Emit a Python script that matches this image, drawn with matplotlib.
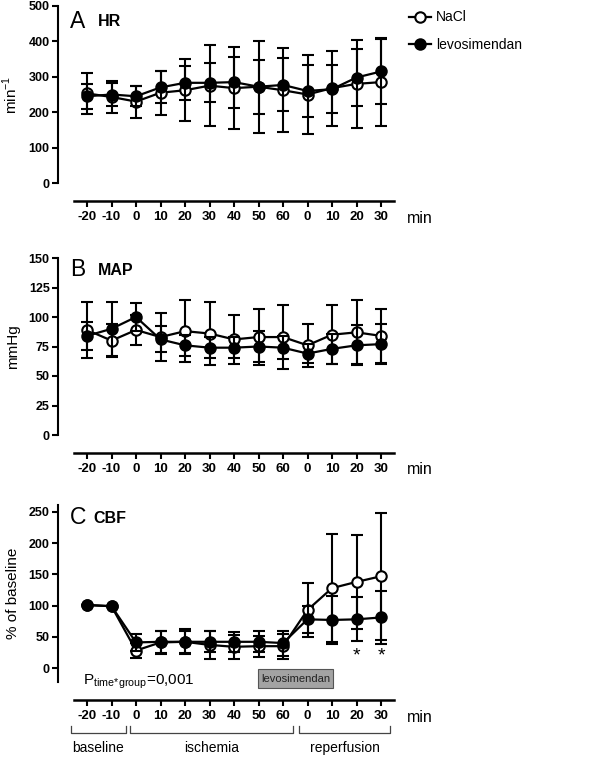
import matplotlib
matplotlib.use('Agg')
import matplotlib.pyplot as plt
from matplotlib.lines import Line2D
from matplotlib.patches import Rectangle

plt.rcParams['font.family'] = ['Liberation Sans', 'DejaVu Sans']
plt.rcParams['mathtext.fontset'] = 'custom'
plt.rcParams['mathtext.rm'] = 'Liberation Sans'

# time points (baseline, ischemia, reperfusion)
time_labels = ['-20', '-10', '0', '10', '20', '30', '40', '50', '60', '0', '10', '20', '30']

# heart rate (min^-1), mean and SD
hr_nacl = [253, 243, 230, 255, 262, 275, 268, 272, 262, 250, 268, 280, 285]
hr_nacl_sd = [58, 45, 45, 62, 88, 115, 115, 130, 118, 112, 106, 125, 125]
hr_levo = [245, 250, 245, 270, 283, 283, 285, 272, 277, 260, 265, 298, 315]
hr_levo_sd = [35, 32, 28, 45, 48, 55, 72, 76, 75, 73, 68, 80, 92]

# mean arterial pressure (mmHg)
map_nacl = [89, 80, 89, 83, 88, 86, 81, 83, 83, 76, 85, 87, 84]
map_nacl_sd = [24, 14, 13, 20, 26, 27, 21, 24, 27, 18, 25, 27, 23]
map_levo = [84, 90, 100, 81, 76, 74, 74, 75, 74, 69, 73, 76, 77]
map_levo_sd = [12, 23, 12, 11, 9, 9, 9, 13, 10, 8, 13, 17, 17]

# cerebral blood flow (% of baseline)
cbf_nacl = [101, 99, 28, 41, 42, 37, 34, 35, 35, 93, 128, 138, 147]
cbf_nacl_sd = [0, 0, 12, 18, 18, 22, 19, 17, 20, 43, 86, 75, 102]
cbf_levo = [101, 99, 41, 42, 42, 42, 42, 42, 40, 78, 77, 78, 81]
cbf_levo_sd = [0, 0, 13, 18, 20, 17, 16, 17, 20, 22, 38, 35, 42]

W, H = 600, 757
x = list(range(len(time_labels)))
px_step = 24.5  # px between time points
x0_px = 87       # px of first time point
ax_left, ax_right = 58, 394


def box(top, bottom):
    return [ax_left / W, 1 - bottom / H, (ax_right - ax_left) / W, (bottom - top) / H]


def px2x(px):
    return (px - x0_px) / px_step


def draw_panel(ax, nacl, nacl_sd, levo, levo_sd, ylim, yticks, letter, title, ylabel, ty):
    ax.errorbar(x, nacl, yerr=nacl_sd, color='black', lw=1.6, elinewidth=1.5,
                capsize=4, capthick=1.5, marker='o', ms=7.5, mfc='white',
                mec='black', mew=1.5, clip_on=False, zorder=3)
    ax.errorbar(x, levo, yerr=levo_sd, color='black', lw=1.6, elinewidth=1.5,
                capsize=4, capthick=1.5, marker='o', ms=7.5, mfc='black',
                mec='black', mew=1.5, clip_on=False, zorder=4)
    ax.set_xlim(px2x(ax_left), px2x(ax_right))
    ax.set_ylim(*ylim)
    ax.set_yticks(yticks)
    ax.set_xticks(x)
    ax.set_xticklabels(time_labels)
    for s in ['top', 'right']:
        ax.spines[s].set_visible(False)
    ax.spines['left'].set_linewidth(1.5)
    ax.spines['bottom'].set_linewidth(1.8)
    ax.spines['bottom'].set_position(('outward', 13))
    ax.spines['bottom'].set_bounds(px2x(74), px2x(394))
    ax.tick_params(axis='both', width=1.5, length=4, labelsize=9, pad=2)
    ax.tick_params(axis='x', pad=3, labelsize=9.5)
    for t in ax.get_xticklabels() + ax.get_yticklabels():
        t.set_fontweight('bold')
    ax.text(0.036, ty, letter, transform=ax.transAxes, fontsize=16.5, va='center', ha='left')
    ax.text(0.119 if letter != 'C' else 0.104, ty - 0.005, title, transform=ax.transAxes,
            fontsize=11.5, fontweight='bold', va='center', ha='left')
    ax.set_ylabel(ylabel, fontsize=11)
    ax.yaxis.set_label_coords(-38 / (ax_right - ax_left), 0.5)


fig = plt.figure(figsize=(W / 100, H / 100), dpi=100)

ax_a = fig.add_axes(box(6, 183))
draw_panel(ax_a, hr_nacl, hr_nacl_sd, hr_levo, hr_levo_sd, (0, 500),
           [0, 100, 200, 300, 400, 500], 'A', 'HR', 'min$^{-1}$', 0.915)

ax_b = fig.add_axes(box(258, 435))
draw_panel(ax_b, map_nacl, map_nacl_sd, map_levo, map_levo_sd, (0, 150),
           [0, 25, 50, 75, 100, 125, 150], 'B', 'MAP', 'mmHg', 0.935)

ax_c = fig.add_axes(box(505, 682))
draw_panel(ax_c, cbf_nacl, cbf_nacl_sd, cbf_levo, cbf_levo_sd, (-22.4, 261.2),
           [0, 50, 100, 150, 200, 250], 'C', 'CBF', '% of baseline', 0.93)
ax_c.spines['left'].set_bounds(-22.4, 261.2)

# "min" labels
for y_px in [218, 470, 717]:
    fig.text(407 / W, 1 - y_px / H, 'min', fontsize=11.5, va='center', ha='left')

# significance stars
for i in [11, 12]:
    ax_c.text(x[i], 20, '*', fontsize=14, ha='center', va='center')

# statistics text
ax_c.text(px2x(83), -22, r'P$_{\mathregular{time\!*\!group}}$=0,001', fontsize=11,
          va='center', ha='left')

# levosimendan infusion box
ax_c.add_patch(Rectangle((px2x(258), -32), px2x(333) - px2x(258), 30,
                         facecolor='#a3a3a3', edgecolor='#555555', lw=0.8,
                         clip_on=False, transform=ax_c.transData))
ax_c.text((px2x(258) + px2x(333)) / 2, -17, 'levosimendan', fontsize=8,
          ha='center', va='center', color='#222222')

# phase brackets below the x axis
phases = [('baseline', 71, 126), ('ischemia', 130, 293), ('reperfusion', 299, 390)]
for name, x1, x2 in phases:
    y_line = 1 - 733 / H
    y_tip = 1 - 726 / H
    fig.add_artist(Line2D([x1 / W, x1 / W, x2 / W, x2 / W], [y_tip, y_line, y_line, y_tip],
                          color='#444444', lw=0.9))
    fig.text((x1 + x2) / 2 / W, 1 - 748 / H, name, fontsize=10, ha='center', va='center')

# legend
handles = [Line2D([], [], color='black', lw=1.6, marker='o', ms=7.5, mfc='white', mew=1.5),
           Line2D([], [], color='black', lw=1.6, marker='o', ms=7.5, mfc='black', mew=1.5)]
fig.legend(handles, ['NaCl', 'levosimendan'], loc='upper left',
           bbox_to_anchor=(396 / W, 1 + 2 / H), frameon=False, fontsize=10,
           handlelength=1.6, handletextpad=0.4, labelspacing=0.95)

fig.savefig('out.png', dpi=100)
